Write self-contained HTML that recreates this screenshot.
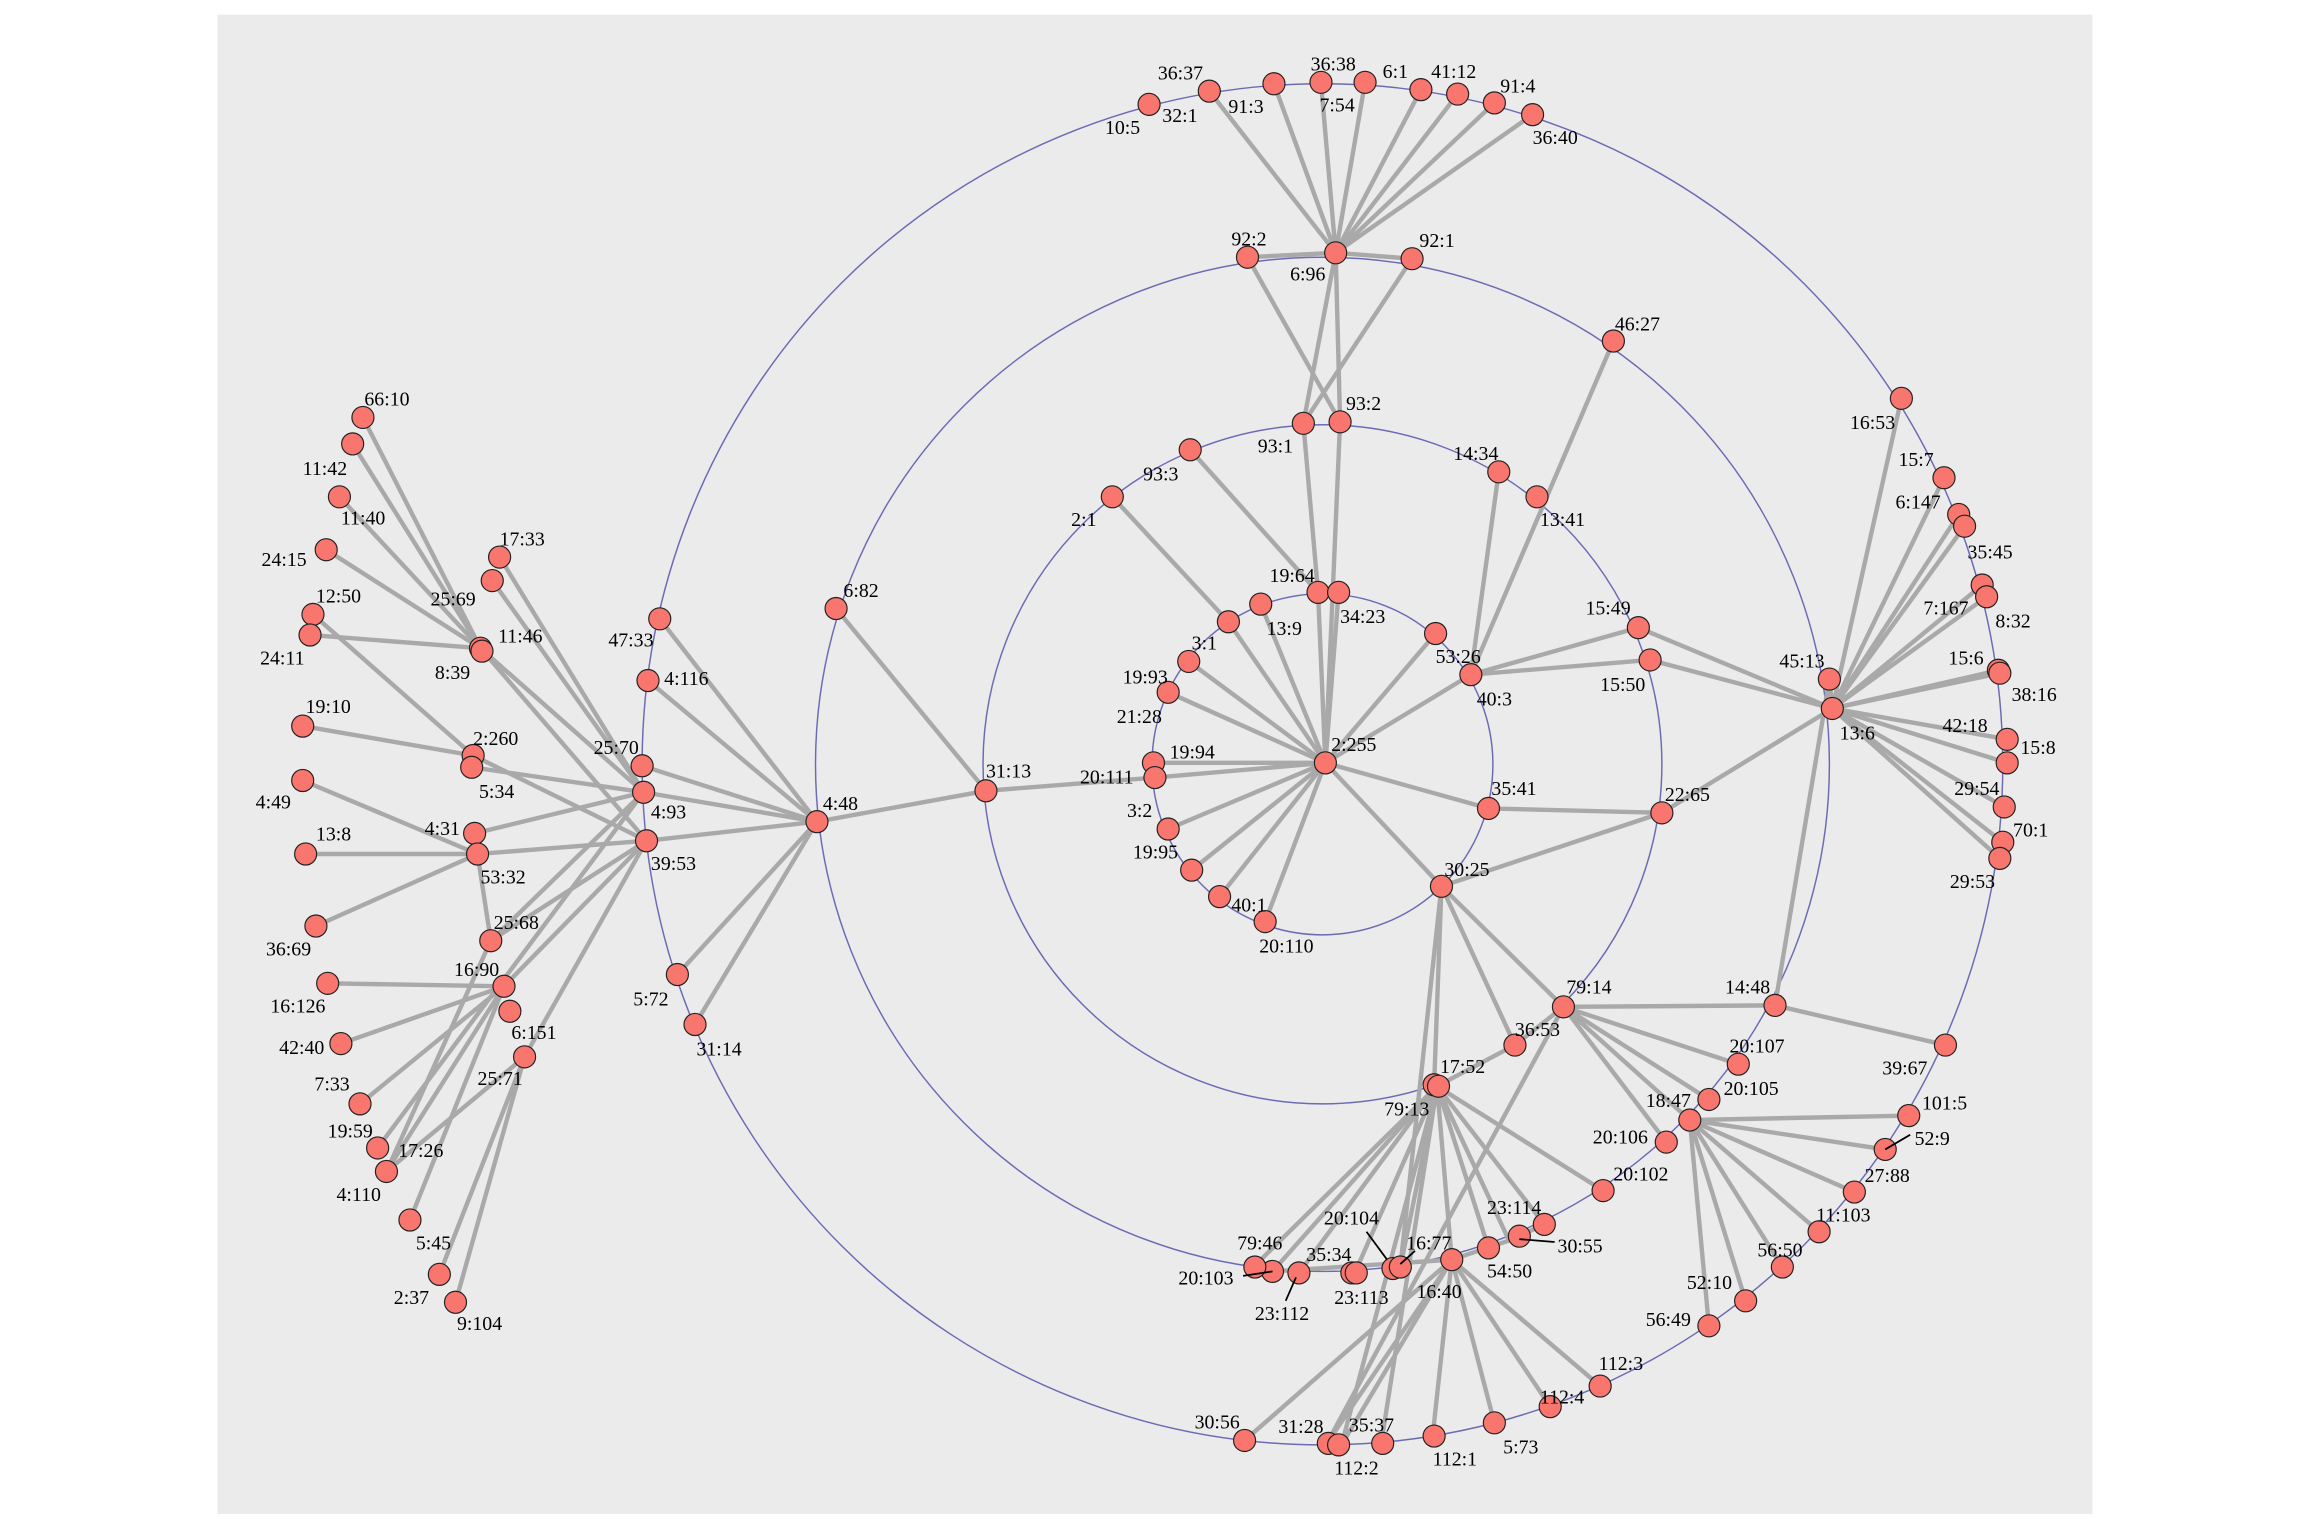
<!DOCTYPE html>
<html><head><meta charset="utf-8"><style>
html,body{margin:0;padding:0;background:#fff;}
svg{display:block;}
text{font-family:"Liberation Serif",serif;font-size:13.5px;fill:#000;}
.e line{stroke:#a9a9a9;stroke-width:3;}
.n circle{fill:#f8766d;stroke:#222;stroke-width:0.8;}
</style></head><body>
<svg width="2304" height="1536" viewBox="0 0 1568 1045" preserveAspectRatio="none" xmlns="http://www.w3.org/2000/svg">
<rect x="0" y="0" width="1568" height="1045" fill="#fff"/>
<rect x="148" y="10" width="1276" height="1020" fill="#ebebeb"/>
<g fill="none" stroke="#6b6bb5" stroke-width="1">
<circle cx="900" cy="520" r="116"/>
<circle cx="900" cy="520" r="231"/>
<circle cx="900" cy="520" r="345"/>
<circle cx="900" cy="520" r="463"/>
</g>
<g class="e">
<line x1="909" y1="172" x2="823" y2="62"/><line x1="909" y1="172" x2="867" y2="57"/><line x1="909" y1="172" x2="899" y2="56"/><line x1="909" y1="172" x2="929" y2="56"/><line x1="909" y1="172" x2="967" y2="61"/><line x1="909" y1="172" x2="992" y2="64"/><line x1="909" y1="172" x2="1017" y2="70"/><line x1="909" y1="172" x2="1043" y2="78"/><line x1="909" y1="172" x2="849" y2="175"/><line x1="909" y1="172" x2="961" y2="176"/><line x1="909" y1="172" x2="887" y2="288"/><line x1="909" y1="172" x2="912" y2="287"/>
<line x1="849" y1="175" x2="912" y2="287"/><line x1="961" y1="176" x2="887" y2="288"/>
<line x1="912" y1="287" x2="902" y2="519"/><line x1="887" y1="288" x2="897" y2="403"/>
<line x1="810" y1="306" x2="897" y2="403"/><line x1="757" y1="338" x2="836" y2="423"/>
<line x1="902" y1="519" x2="836" y2="423"/><line x1="902" y1="519" x2="858" y2="411"/><line x1="902" y1="519" x2="897" y2="403"/><line x1="902" y1="519" x2="911" y2="403"/><line x1="902" y1="519" x2="977" y2="431"/><line x1="902" y1="519" x2="1001" y2="459"/><line x1="902" y1="519" x2="809" y2="450"/><line x1="902" y1="519" x2="795" y2="471"/><line x1="902" y1="519" x2="785" y2="519"/><line x1="902" y1="519" x2="786" y2="529"/><line x1="902" y1="519" x2="795" y2="564"/><line x1="902" y1="519" x2="811" y2="592"/><line x1="902" y1="519" x2="830" y2="610"/><line x1="902" y1="519" x2="861" y2="627"/><line x1="902" y1="519" x2="1013" y2="550"/><line x1="902" y1="519" x2="981" y2="603"/>
<line x1="1001" y1="459" x2="1020" y2="321"/><line x1="1001" y1="459" x2="1098" y2="232"/><line x1="1001" y1="459" x2="1115" y2="427"/><line x1="1001" y1="459" x2="1123" y2="449"/>
<line x1="1247" y1="482" x2="1294" y2="271"/><line x1="1247" y1="482" x2="1323" y2="325"/><line x1="1247" y1="482" x2="1333" y2="350"/><line x1="1247" y1="482" x2="1337" y2="358"/><line x1="1247" y1="482" x2="1349" y2="398"/><line x1="1247" y1="482" x2="1352" y2="406"/><line x1="1247" y1="482" x2="1360" y2="456"/><line x1="1247" y1="482" x2="1361" y2="458"/><line x1="1247" y1="482" x2="1366" y2="503"/><line x1="1247" y1="482" x2="1366" y2="519"/><line x1="1247" y1="482" x2="1364" y2="549"/><line x1="1247" y1="482" x2="1363" y2="573"/><line x1="1247" y1="482" x2="1361" y2="584"/><line x1="1247" y1="482" x2="1245" y2="462"/><line x1="1247" y1="482" x2="1131" y2="553"/><line x1="1247" y1="482" x2="1115" y2="427"/><line x1="1247" y1="482" x2="1123" y2="449"/>
<line x1="1131" y1="553" x2="1013" y2="550"/><line x1="1131" y1="553" x2="981" y2="603"/>
<line x1="1208" y1="684" x2="1245" y2="462"/><line x1="1208" y1="684" x2="1064" y2="685"/><line x1="1208" y1="684" x2="1324" y2="711"/>
<line x1="981" y1="603" x2="1064" y2="685"/><line x1="981" y1="603" x2="976" y2="738"/><line x1="981" y1="603" x2="1031" y2="711"/><line x1="981" y1="603" x2="953" y2="862"/>
<line x1="1064" y1="685" x2="1183" y2="724"/><line x1="1064" y1="685" x2="1163" y2="748"/><line x1="1064" y1="685" x2="1150" y2="762"/><line x1="1064" y1="685" x2="1134" y2="777"/><line x1="1064" y1="685" x2="1031" y2="711"/><line x1="1064" y1="685" x2="903" y2="982"/>
<line x1="1150" y1="762" x2="1299" y2="759"/><line x1="1150" y1="762" x2="1283" y2="782"/><line x1="1150" y1="762" x2="1262" y2="811"/><line x1="1150" y1="762" x2="1238" y2="838"/><line x1="1150" y1="762" x2="1213" y2="862"/><line x1="1150" y1="762" x2="1188" y2="885"/><line x1="1150" y1="762" x2="1163" y2="902"/>
<line x1="978" y1="739" x2="1031" y2="711"/><line x1="978" y1="739" x2="1091" y2="810"/><line x1="978" y1="739" x2="1051" y2="833"/><line x1="978" y1="739" x2="1027" y2="844"/><line x1="978" y1="739" x2="1013" y2="849"/><line x1="978" y1="739" x2="988" y2="857"/><line x1="978" y1="739" x2="953" y2="862"/><line x1="978" y1="739" x2="922" y2="866"/><line x1="978" y1="739" x2="884" y2="866"/><line x1="978" y1="739" x2="866" y2="865"/><line x1="978" y1="739" x2="853" y2="862"/><line x1="978" y1="739" x2="940" y2="982"/><line x1="978" y1="739" x2="913" y2="983"/>
<line x1="866" y1="865" x2="988" y2="857"/><line x1="988" y1="857" x2="1027" y2="844"/><line x1="1027" y1="844" x2="1051" y2="833"/>
<line x1="988" y1="857" x2="847" y2="980"/><line x1="988" y1="857" x2="903" y2="982"/><line x1="988" y1="857" x2="913" y2="983"/><line x1="988" y1="857" x2="975" y2="977"/><line x1="988" y1="857" x2="1017" y2="968"/><line x1="988" y1="857" x2="1055" y2="957"/><line x1="988" y1="857" x2="1089" y2="943"/>
<line x1="671" y1="538" x2="556" y2="559"/><line x1="671" y1="538" x2="569" y2="414"/><line x1="671" y1="538" x2="786" y2="529"/>
<line x1="556" y1="559" x2="449" y2="421"/><line x1="556" y1="559" x2="441" y2="463"/><line x1="556" y1="559" x2="437" y2="521"/><line x1="556" y1="559" x2="438" y2="539"/><line x1="556" y1="559" x2="440" y2="572"/><line x1="556" y1="559" x2="461" y2="663"/><line x1="556" y1="559" x2="473" y2="697"/>
<!-- left clusters -->
<line x1="327" y1="441" x2="247" y2="284"/><line x1="327" y1="441" x2="240" y2="302"/><line x1="327" y1="441" x2="231" y2="338"/><line x1="327" y1="441" x2="222" y2="374"/><line x1="327" y1="441" x2="211" y2="432"/><line x1="327" y1="441" x2="440" y2="572"/><line x1="327" y1="441" x2="438" y2="539"/>
<line x1="213" y1="418" x2="322" y2="514"/><line x1="206" y1="494" x2="322" y2="514"/><line x1="322" y1="514" x2="440" y2="572"/><line x1="321" y1="522" x2="438" y2="539"/>
<line x1="340" y1="379" x2="438" y2="539"/><line x1="335" y1="395" x2="438" y2="539"/>
<line x1="206" y1="531" x2="325" y2="581"/><line x1="208" y1="581" x2="325" y2="581"/><line x1="215" y1="630" x2="325" y2="581"/><line x1="325" y1="581" x2="440" y2="572"/><line x1="323" y1="567" x2="438" y2="539"/><line x1="325" y1="581" x2="334" y2="640"/>
<line x1="334" y1="640" x2="440" y2="572"/><line x1="334" y1="640" x2="438" y2="539"/>
<line x1="343" y1="671" x2="223" y2="669"/><line x1="343" y1="671" x2="232" y2="710"/><line x1="343" y1="671" x2="245" y2="751"/><line x1="343" y1="671" x2="440" y2="572"/><line x1="343" y1="671" x2="279" y2="830"/><line x1="343" y1="671" x2="263" y2="797"/>
<line x1="257" y1="781" x2="438" y2="539"/><line x1="263" y1="797" x2="334" y2="640"/><line x1="263" y1="797" x2="357" y2="719"/>
<line x1="357" y1="719" x2="440" y2="572"/><line x1="357" y1="719" x2="299" y2="867"/><line x1="357" y1="719" x2="310" y2="886"/>
</g>
<g class="n">
<circle cx="782" cy="71" r="7.5"/><circle cx="823" cy="62" r="7.5"/><circle cx="867" cy="57" r="7.5"/><circle cx="899" cy="56" r="7.5"/><circle cx="929" cy="56" r="7.5"/><circle cx="967" cy="61" r="7.5"/><circle cx="992" cy="64" r="7.5"/><circle cx="1017" cy="70" r="7.5"/><circle cx="1043" cy="78" r="7.5"/>
<circle cx="909" cy="172" r="7.5"/><circle cx="849" cy="175" r="7.5"/><circle cx="961" cy="176" r="7.5"/><circle cx="1098" cy="232" r="7.5"/>
<circle cx="887" cy="288" r="7.5"/><circle cx="912" cy="287" r="7.5"/><circle cx="810" cy="306" r="7.5"/><circle cx="757" cy="338" r="7.5"/><circle cx="1020" cy="321" r="7.5"/><circle cx="1046" cy="338" r="7.5"/>
<circle cx="897" cy="403" r="7.5"/><circle cx="911" cy="403" r="7.5"/><circle cx="858" cy="411" r="7.5"/><circle cx="836" cy="423" r="7.5"/><circle cx="977" cy="431" r="7.5"/><circle cx="1001" cy="459" r="7.5"/><circle cx="809" cy="450" r="7.5"/><circle cx="795" cy="471" r="7.5"/><circle cx="785" cy="519" r="7.5"/><circle cx="786" cy="529" r="7.5"/><circle cx="795" cy="564" r="7.5"/><circle cx="811" cy="592" r="7.5"/><circle cx="830" cy="610" r="7.5"/><circle cx="861" cy="627" r="7.5"/><circle cx="902" cy="519" r="7.5"/><circle cx="1013" cy="550" r="7.5"/><circle cx="981" cy="603" r="7.5"/>
<circle cx="1115" cy="427" r="7.5"/><circle cx="1123" cy="449" r="7.5"/><circle cx="1131" cy="553" r="7.5"/><circle cx="1245" cy="462" r="7.5"/><circle cx="1247" cy="482" r="7.5"/>
<circle cx="1294" cy="271" r="7.5"/><circle cx="1323" cy="325" r="7.5"/><circle cx="1333" cy="350" r="7.5"/><circle cx="1337" cy="358" r="7.5"/><circle cx="1349" cy="398" r="7.5"/><circle cx="1352" cy="406" r="7.5"/><circle cx="1360" cy="456" r="7.5"/><circle cx="1361" cy="458" r="7.5"/><circle cx="1366" cy="503" r="7.5"/><circle cx="1366" cy="519" r="7.5"/><circle cx="1364" cy="549" r="7.5"/><circle cx="1363" cy="573" r="7.5"/><circle cx="1361" cy="584" r="7.5"/>
<circle cx="1208" cy="684" r="7.5"/><circle cx="1324" cy="711" r="7.5"/><circle cx="1064" cy="685" r="7.5"/><circle cx="1031" cy="711" r="7.5"/><circle cx="1183" cy="724" r="7.5"/><circle cx="1163" cy="748" r="7.5"/><circle cx="1150" cy="762" r="7.5"/><circle cx="1134" cy="777" r="7.5"/><circle cx="1091" cy="810" r="7.5"/>
<circle cx="1299" cy="759" r="7.5"/><circle cx="1283" cy="782" r="7.5"/><circle cx="1262" cy="811" r="7.5"/><circle cx="1238" cy="838" r="7.5"/><circle cx="1213" cy="862" r="7.5"/><circle cx="1188" cy="885" r="7.5"/><circle cx="1163" cy="902" r="7.5"/>
<circle cx="976" cy="738" r="7.5"/><circle cx="979" cy="739" r="7.5"/>
<circle cx="1051" cy="833" r="7.5"/><circle cx="1034" cy="841" r="7.5"/><circle cx="1013" cy="849" r="7.5"/><circle cx="988" cy="857" r="7.5"/><circle cx="948" cy="863" r="7.5"/><circle cx="953" cy="862" r="7.5"/><circle cx="920" cy="866" r="7.5"/><circle cx="923" cy="866" r="7.5"/><circle cx="884" cy="866" r="7.5"/><circle cx="866" cy="865" r="7.5"/><circle cx="854" cy="862" r="7.5"/>
<circle cx="847" cy="980" r="7.5"/><circle cx="904" cy="982" r="7.5"/><circle cx="911" cy="983" r="7.5"/><circle cx="941" cy="982" r="7.5"/><circle cx="976" cy="977" r="7.5"/><circle cx="1017" cy="968" r="7.5"/><circle cx="1055" cy="957" r="7.5"/><circle cx="1089" cy="943" r="7.5"/>
<circle cx="671" cy="538" r="7.5"/><circle cx="569" cy="414" r="7.5"/><circle cx="556" cy="559" r="7.5"/>
<circle cx="449" cy="421" r="7.5"/><circle cx="441" cy="463" r="7.5"/><circle cx="437" cy="521" r="7.5"/><circle cx="438" cy="539" r="7.5"/><circle cx="440" cy="572" r="7.5"/><circle cx="461" cy="663" r="7.5"/><circle cx="473" cy="697" r="7.5"/>
<circle cx="247" cy="284" r="7.5"/><circle cx="240" cy="302" r="7.5"/><circle cx="231" cy="338" r="7.5"/><circle cx="222" cy="374" r="7.5"/><circle cx="213" cy="418" r="7.5"/><circle cx="211" cy="432" r="7.5"/><circle cx="340" cy="379" r="7.5"/><circle cx="335" cy="395" r="7.5"/><circle cx="327" cy="441" r="7.5"/><circle cx="328" cy="443" r="7.5"/>
<circle cx="206" cy="494" r="7.5"/><circle cx="322" cy="514" r="7.5"/><circle cx="321" cy="522" r="7.5"/><circle cx="206" cy="531" r="7.5"/><circle cx="323" cy="567" r="7.5"/><circle cx="208" cy="581" r="7.5"/><circle cx="325" cy="581" r="7.5"/><circle cx="215" cy="630" r="7.5"/><circle cx="334" cy="640" r="7.5"/><circle cx="223" cy="669" r="7.5"/><circle cx="343" cy="671" r="7.5"/><circle cx="232" cy="710" r="7.5"/><circle cx="347" cy="688" r="7.5"/><circle cx="357" cy="719" r="7.5"/><circle cx="245" cy="751" r="7.5"/><circle cx="257" cy="781" r="7.5"/><circle cx="263" cy="797" r="7.5"/><circle cx="279" cy="830" r="7.5"/><circle cx="299" cy="867" r="7.5"/><circle cx="310" cy="886" r="7.5"/>
</g>
<g stroke="#000" stroke-width="1.2">
<line x1="866" y1="865" x2="846" y2="868"/><line x1="882" y1="869" x2="875" y2="885"/><line x1="930" y1="838" x2="944" y2="857"/><line x1="963" y1="851" x2="953" y2="860"/><line x1="1034" y1="843" x2="1058" y2="845"/><line x1="1283" y1="782" x2="1300" y2="772"/>
</g>
<g>
<text x="788" y="54">36:37</text><text x="791" y="83">32:1</text><text x="752" y="91">10:5</text><text x="836" y="77">91:3</text><text x="892" y="48">36:38</text><text x="898" y="76">7:54</text><text x="941" y="53">6:1</text><text x="974" y="53">41:12</text><text x="1021" y="63">91:4</text><text x="1043" y="98">36:40</text>
<text x="838" y="167">92:2</text><text x="878" y="191">6:96</text><text x="966" y="168">92:1</text><text x="1099" y="225">46:27</text><text x="1259" y="292">16:53</text>
<text x="856" y="308">93:1</text><text x="916" y="279">93:2</text><text x="778" y="327">93:3</text><text x="729" y="358">2:1</text><text x="989" y="313">14:34</text><text x="1048" y="358">13:41</text>
<text x="864" y="396">19:64</text><text x="912" y="424">34:23</text><text x="862" y="432">13:9</text><text x="811" y="442">3:1</text><text x="977" y="451">53:26</text><text x="1005" y="480">40:3</text><text x="764" y="465">19:93</text><text x="760" y="492">21:28</text><text x="796" y="516">19:94</text><text x="735" y="533">20:111</text><text x="906" y="511">2:255</text><text x="767" y="556">3:2</text><text x="771" y="584">19:95</text><text x="838" y="620">40:1</text><text x="857" y="648">20:110</text>
<text x="1015" y="541">35:41</text><text x="983" y="596">30:25</text><text x="1079" y="418">15:49</text><text x="1089" y="470">15:50</text><text x="1133" y="545">22:65</text><text x="1211" y="454">45:13</text><text x="1252" y="503">13:6</text>
<text x="1292" y="317">15:7</text><text x="1290" y="346">6:147</text><text x="1339" y="380">35:45</text><text x="1309" y="418">7:167</text><text x="1358" y="427">8:32</text><text x="1326" y="452">15:6</text><text x="1369" y="477">38:16</text><text x="1322" y="498">42:18</text><text x="1375" y="513">15:8</text><text x="1330" y="541">29:54</text><text x="1370" y="569">70:1</text><text x="1327" y="604">29:53</text>
<text x="1174" y="676">14:48</text><text x="1281" y="731">39:67</text><text x="1066" y="676">79:14</text><text x="1031" y="705">36:53</text><text x="1177" y="716">20:107</text><text x="1173" y="745">20:105</text><text x="1120" y="753">18:47</text><text x="1084" y="778">20:106</text><text x="1098" y="803">20:102</text>
<text x="1308" y="755">101:5</text><text x="1303" y="779">52:9</text><text x="1269" y="804">27:88</text><text x="1236" y="831">11:103</text><text x="1196" y="855">56:50</text><text x="1148" y="877">52:10</text><text x="1120" y="902">56:49</text><text x="1088" y="932">112:3</text><text x="1048" y="955">112:4</text>
<text x="980" y="730">17:52</text><text x="942" y="759">79:13</text><text x="1012" y="826">23:114</text><text x="1060" y="852">30:55</text><text x="1012" y="869">54:50</text><text x="964" y="883">16:40</text><text x="957" y="850">16:77</text><text x="901" y="833">20:104</text><text x="908" y="887">23:113</text><text x="889" y="858">35:34</text><text x="842" y="850">79:46</text><text x="802" y="874">20:103</text><text x="854" y="898">23:112</text>
<text x="813" y="972">30:56</text><text x="870" y="975">31:28</text><text x="918" y="974">35:37</text><text x="908" y="1003">112:2</text><text x="975" y="997">112:1</text><text x="1023" y="989">5:73</text>
<text x="671" y="529">31:13</text><text x="574" y="406">6:82</text><text x="560" y="551">4:48</text>
<text x="414" y="440">47:33</text><text x="452" y="466">4:116</text><text x="404" y="513">25:70</text><text x="443" y="557">4:93</text><text x="443" y="592">39:53</text><text x="431" y="684">5:72</text><text x="474" y="718">31:14</text>
<text x="248" y="276">66:10</text><text x="206" y="323">11:42</text><text x="232" y="357">11:40</text><text x="178" y="385">24:15</text><text x="215" y="410">12:50</text><text x="177" y="452">24:11</text><text x="340" y="371">17:33</text><text x="293" y="412">25:69</text><text x="339" y="437">11:46</text><text x="296" y="462">8:39</text>
<text x="208" y="485">19:10</text><text x="322" y="507">2:260</text><text x="326" y="543">5:34</text><text x="174" y="550">4:49</text><text x="289" y="568">4:31</text><text x="215" y="572">13:8</text><text x="327" y="601">53:32</text><text x="181" y="650">36:69</text><text x="336" y="632">25:68</text><text x="184" y="689">16:126</text><text x="309" y="664">16:90</text><text x="190" y="717">42:40</text><text x="348" y="707">6:151</text><text x="325" y="738">25:71</text><text x="214" y="742">7:33</text><text x="223" y="774">19:59</text><text x="271" y="787">17:26</text><text x="229" y="817">4:110</text><text x="283" y="850">5:45</text><text x="268" y="887">2:37</text><text x="311" y="905">9:104</text>
</g>
</svg>
</body></html>
